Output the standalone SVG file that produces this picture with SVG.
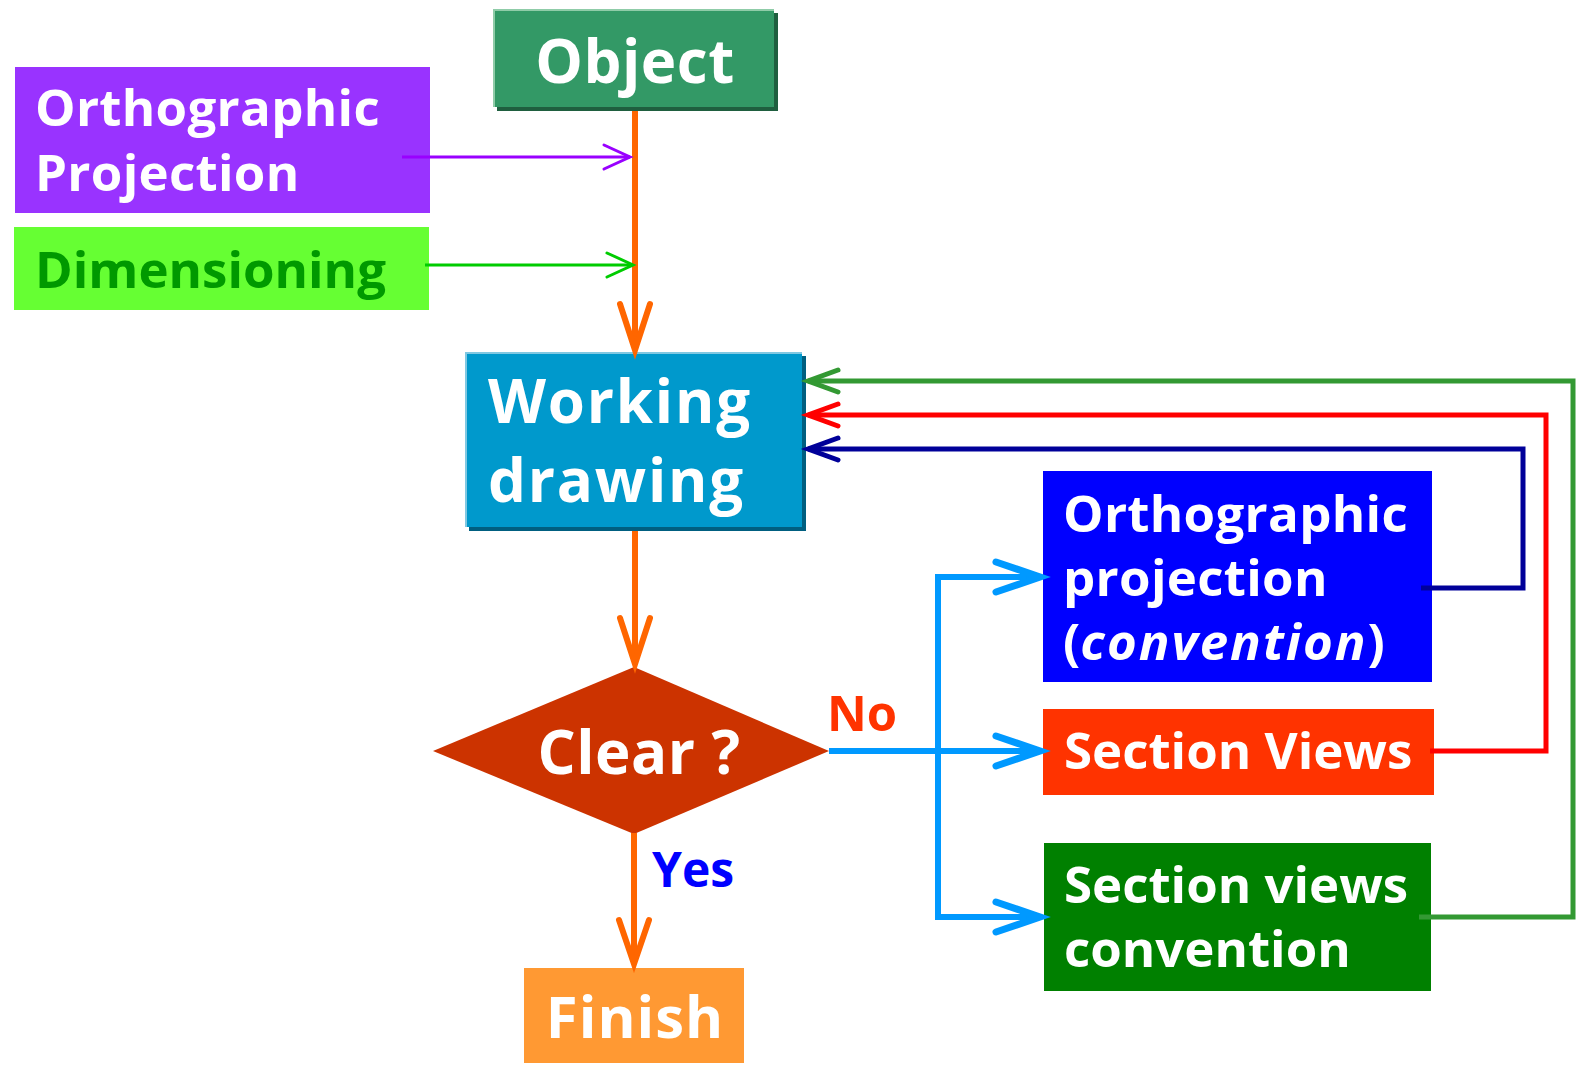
<svg xmlns="http://www.w3.org/2000/svg" width="1585" height="1067" viewBox="0 0 1585 1067">
<style>
text{font-family:"Open Sans","Noto Sans","DejaVu Sans",sans-serif;font-weight:bold}
.w{fill:#ffffff}
.c{fill:none;stroke-linecap:round;stroke-linejoin:miter}
.l{fill:none}
</style>
<rect width="1585" height="1067" fill="#ffffff"/>
<g id="object">
  <rect x="497" y="13" width="281" height="98" fill="#1F5F3F"/>
  <rect x="493" y="9" width="281" height="98" fill="#8FCCA8"/>
  <rect x="495" y="11" width="279" height="96" fill="#339966"/>
  <text class="w" x="635" y="83" font-size="60" text-anchor="middle" letter-spacing="0.5">Object</text>
</g>
<g id="ortho-input">
  <rect x="15" y="67" width="415" height="146" fill="#9933FF"/>
  <text class="w" x="35" y="126" font-size="51" letter-spacing="0.3">Orthographic</text>
  <text class="w" x="35" y="191" font-size="51" letter-spacing="0.3">Projection</text>
</g>
<g id="dimensioning">
  <rect x="14" y="227" width="415" height="83" fill="#66FF33"/>
  <text x="35" y="288" font-size="51" fill="#009900">Dimensioning</text>
</g>
<g id="working">
  <rect x="469" y="356" width="337" height="175" fill="#005F80"/>
  <rect x="465" y="352" width="337" height="175" fill="#80C8E2"/>
  <rect x="467" y="354" width="335" height="173" fill="#0099CC"/>
  <text class="w" x="488" y="423" font-size="60" letter-spacing="1.8">Working</text>
  <text class="w" x="488" y="502" font-size="60" letter-spacing="1.8">drawing</text>
</g>
<g id="clear">
  <polygon points="433,751 634,667 829,751 634,834" fill="#CC3300"/>
  <text class="w" x="639" y="774" font-size="60" text-anchor="middle" letter-spacing="0.5">Clear ?</text>
</g>
<g id="labels">
  <text x="827" y="731" font-size="49" fill="#FF3300">No</text>
  <text x="652" y="887" font-size="48" fill="#0000FF">Yes</text>
</g>
<g id="finish">
  <rect x="524" y="968" width="220" height="95" fill="#FF9933"/>
  <text class="w" x="635" y="1038" font-size="58" text-anchor="middle" letter-spacing="1">Finish</text>
</g>
<g id="ortho-convention">
  <rect x="1043" y="471" width="389" height="211" fill="#0000FF"/>
  <text class="w" x="1063" y="532" font-size="51" letter-spacing="0.3">Orthographic</text>
  <text class="w" x="1063" y="596" font-size="51" letter-spacing="0.3">projection</text>
  <text class="w" x="1063" y="660" font-size="51">(<tspan font-style="italic" letter-spacing="2">convention</tspan>)</text>
</g>
<g id="section-views">
  <rect x="1043" y="709" width="391" height="86" fill="#FF3300"/>
  <text class="w" x="1064" y="769" font-size="51">Section Views</text>
</g>
<g id="section-convention">
  <rect x="1044" y="843" width="387" height="148" fill="#008000"/>
  <text class="w" x="1064" y="903" font-size="51">Section views</text>
  <text class="w" x="1064" y="967" font-size="51">convention</text>
</g>
<g id="connectors">
  <line x1="635" y1="111" x2="635" y2="350" stroke="#FF6600" stroke-width="6"/>
  <polyline class="c" points="620,304 635,350 650,304" stroke="#FF6600" stroke-width="6"/>
  <line x1="635" y1="531" x2="635" y2="664" stroke="#FF6600" stroke-width="6"/>
  <polyline class="c" points="620,618 635,664 650,618" stroke="#FF6600" stroke-width="6"/>
  <line x1="634" y1="833" x2="634" y2="964" stroke="#FF6600" stroke-width="6"/>
  <polyline class="c" points="619,920 634,964 649,920" stroke="#FF6600" stroke-width="6"/>
  <line x1="402" y1="157" x2="630" y2="157" stroke="#9900FF" stroke-width="3"/>
  <polyline class="c" points="604,145 630,157 604,169" stroke="#9900FF" stroke-width="3"/>
  <line x1="425" y1="265" x2="633" y2="265" stroke="#00CC00" stroke-width="3"/>
  <polyline class="c" points="607,253 633,265 607,277" stroke="#00CC00" stroke-width="3"/>
  <polyline class="l" points="829,751 1040,751" stroke="#0099FF" stroke-width="6"/>
  <polyline class="l" points="1040,577 938,577 938,917 1040,917" stroke="#0099FF" stroke-width="6"/>
  <polyline class="c" points="996,562 1040,577 996,592" stroke="#0099FF" stroke-width="7"/>
  <polyline class="c" points="996,736 1040,751 996,766" stroke="#0099FF" stroke-width="7"/>
  <polyline class="c" points="996,902 1040,917 996,932" stroke="#0099FF" stroke-width="7"/>
  <polyline class="l" points="1421,588 1523,588 1523,449 808,449" stroke="#000099" stroke-width="5"/>
  <polyline class="c" points="838,438 808,449 838,460" stroke="#000099" stroke-width="5"/>
  <polyline class="l" points="1430,751 1546,751 1546,415 808,415" stroke="#FF0000" stroke-width="5"/>
  <polyline class="c" points="838,404 808,415 838,426" stroke="#FF0000" stroke-width="5"/>
  <polyline class="l" points="1419,917 1573,917 1573,381 808,381" stroke="#339933" stroke-width="5"/>
  <polyline class="c" points="838,370 808,381 838,392" stroke="#339933" stroke-width="5"/>
</g>
</svg>
